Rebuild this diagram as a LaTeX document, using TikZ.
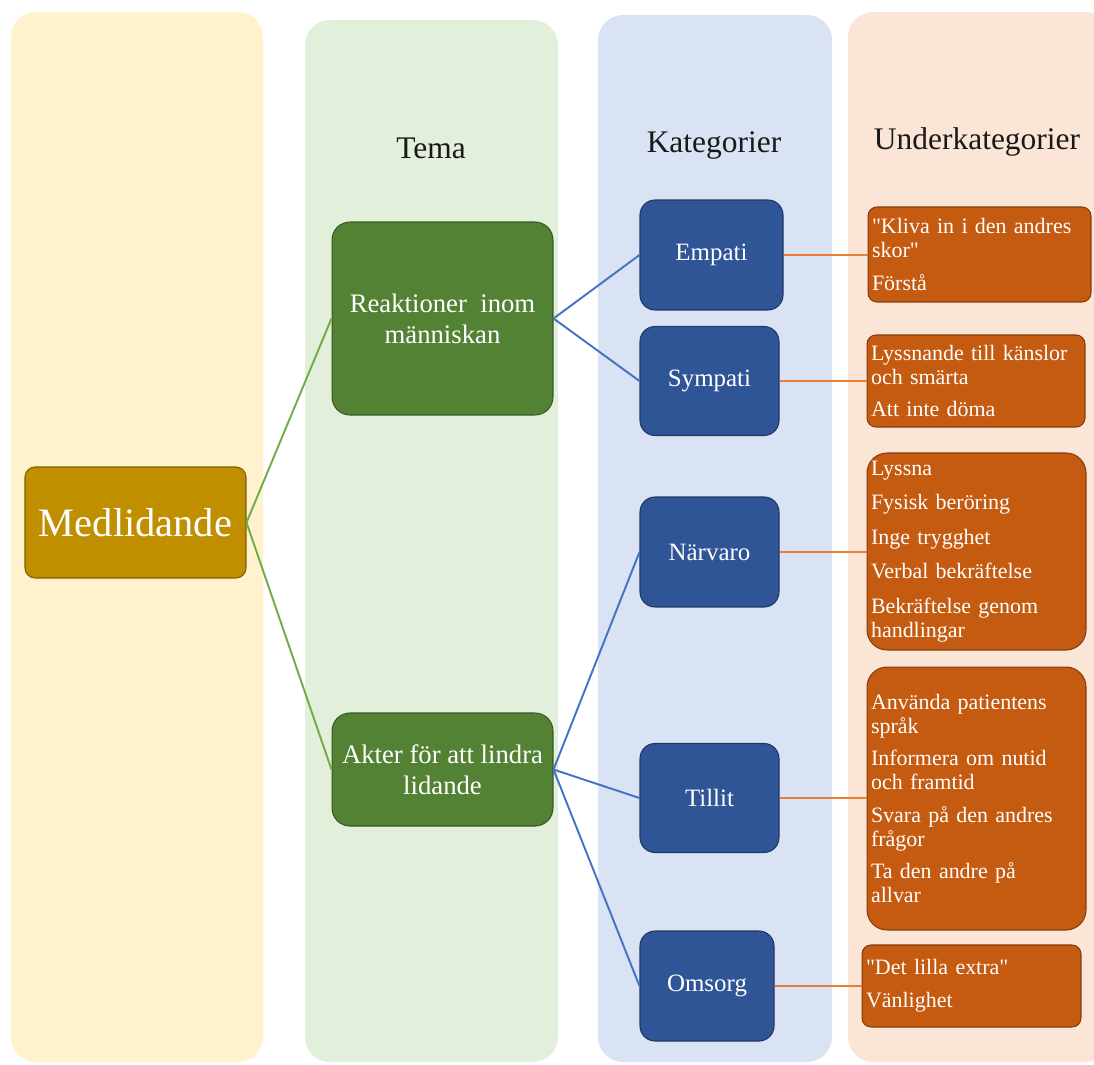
\documentclass[tikz,border=0pt]{standalone}
\usepackage{fontspec}
\setmainfont{Liberation Serif}
\newfontfamily\qfont{Liberation Serif}
\definecolor{ybg}{HTML}{FFF2CC}
\definecolor{gbg}{HTML}{E2EFDA}
\definecolor{bbg}{HTML}{DAE3F3}
\definecolor{obg}{HTML}{FBE5D6}
\definecolor{medfill}{HTML}{BF8F00}
\definecolor{medborder}{HTML}{7F6000}
\definecolor{themefill}{HTML}{548235}
\definecolor{themeborder}{HTML}{385723}
\definecolor{catfill}{HTML}{2F5597}
\definecolor{catborder}{HTML}{1F3864}
\definecolor{subfill}{HTML}{C55A11}
\definecolor{subborder}{HTML}{843C0C}
\definecolor{gline}{HTML}{70AD47}
\definecolor{bline}{HTML}{4472C4}
\definecolor{oline}{HTML}{ED7D31}
\newcommand{\dq}{{\qfont"}}
\begin{document}
\begin{tikzpicture}[x=0.02cm,y=-0.02cm,
  colbg/.style={rounded corners=0.5cm},
  header/.style={font=\fontsize{17.9}{20}\selectfont, text=black!90},
  medbox/.style={draw=medborder, fill=medfill, rounded corners=0.2cm, line width=0.6pt,
     text=white, font=\fontsize{23}{26}\selectfont, inner sep=0pt},
  themebox/.style={draw=themeborder, fill=themefill, rounded corners=0.36cm, line width=0.6pt,
     text=white, align=center, font=\fontsize{15.2}{17.6}\selectfont, inner sep=0pt,
     minimum width=4.42cm},
  catbox/.style={draw=catborder, fill=catfill, rounded corners=0.3cm, line width=0.6pt,
     text=white, font=\fontsize{14.2}{16}\selectfont, inner sep=0pt, minimum height=2.2cm},
  subbox/.style={draw=subborder, fill=subfill, line width=0.6pt,
     text=white, align=left, font=\fontsize{12.5}{13.6}\selectfont, inner xsep=0.08cm, inner ysep=0pt},
  gconn/.style={draw=gline, line width=1.1pt},
  bconn/.style={draw=bline, line width=1.1pt},
  oconn/.style={draw=oline, line width=1.1pt}
]
\useasboundingbox (0,0) rectangle (1094,1064);
% column backgrounds
\fill[ybg, colbg] (11,12) rectangle (263,1062);
\fill[gbg, colbg] (305,20) rectangle (558,1062);
\fill[bbg, colbg] (598,15) rectangle (832,1062);
\fill[obg, colbg] (848,12) rectangle (1110,1062);

% headers
\node[header] (htema) at (431,148) {Tema};
\node[header] (hkat) at (714,145) {Kategorier};
\node[header] (hunder) at (977,142) {Underkategorier};

% root
\node[medbox, minimum width=4.42cm, minimum height=2.22cm] (med) at (135.5,522.5) {Medlidande};

% themes
\node[themebox, minimum height=3.86cm] (reak) at (442.5,318.5) {Reaktioner\ \ inom\\människan};
\node[themebox, minimum height=2.26cm] (akter) at (442.5,769.5) {Akter för att lindra\\lidande};

% categories
\node[catbox, minimum width=2.86cm] (empati) at (711.5,255) {Empati};
\node[catbox, minimum width=2.78cm, minimum height=2.18cm] (sympati) at (709.5,381) {Sympati};
\node[catbox, minimum width=2.78cm] (narvaro) at (709.5,552) {Närvaro};
\node[catbox, minimum width=2.78cm, minimum height=2.18cm] (tillit) at (709.5,798) {Tillit};
\node[catbox, minimum width=2.68cm] (omsorg) at (707,986) {Omsorg};

% subcategories
\node[subbox, rounded corners=0.18cm, text width=4.30cm, minimum height=1.9cm] (s1) at (979.5,254.5)
  {\mbox{\dq Kliva in i den andres}\\skor\dq\\[5pt]Förstå};
\node[subbox, rounded corners=0.18cm, text width=4.20cm, minimum height=1.84cm] (s2) at (976,381)
  {\mbox{Lyssnande till känslor}\\och smärta\\[5pt]Att inte döma};
\node[subbox, rounded corners=0.4cm, text width=4.22cm, minimum height=3.94cm] (s3) at (976.5,551.5)
  {Lyssna\\[6pt]Fysisk beröring\\[6pt]Inge trygghet\\[6pt]Verbal bekräftelse\\[6pt]Bekräftelse genom\\handlingar};
\node[subbox, rounded corners=0.4cm, text width=4.22cm, minimum height=5.26cm] (s4) at (976.5,798.5)
  {Använda patientens\\språk\\[5pt]Informera om nutid\\och framtid\\[5pt]Svara på den andres\\frågor\\[5pt]Ta den andre på\\allvar};
\node[subbox, rounded corners=0.18cm, text width=4.22cm, minimum height=1.64cm] (s5) at (971.5,986)
  {\dq Det lilla extra\dq\\[5pt]Vänlighet};

% connectors
\draw[gconn] (med.east) -- (reak.west);
\draw[gconn] (med.east) -- (akter.west);
\draw[bconn] (reak.east) -- (empati.west);
\draw[bconn] (reak.east) -- (sympati.west);
\draw[bconn] (akter.east) -- (narvaro.west);
\draw[bconn] (akter.east) -- (tillit.west);
\draw[bconn] (akter.east) -- (omsorg.west);
\draw[oconn] (empati.east) -- (empati.east -| s1.west);
\draw[oconn] (sympati.east) -- (sympati.east -| s2.west);
\draw[oconn] (narvaro.east) -- (narvaro.east -| s3.west);
\draw[oconn] (tillit.east) -- (tillit.east -| s4.west);
\draw[oconn] (omsorg.east) -- (omsorg.east -| s5.west);
\end{tikzpicture}
\end{document}
